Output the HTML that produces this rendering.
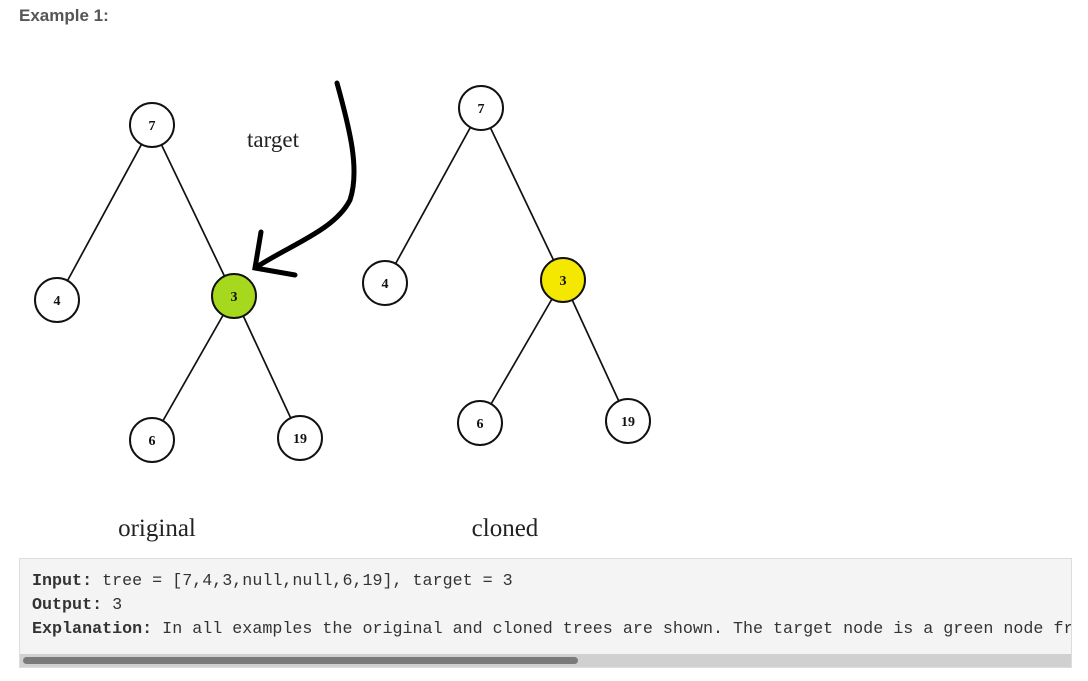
<!DOCTYPE html>
<html><head><meta charset="utf-8"><style>
body{margin:0;background:#fff;width:1088px;height:681px;overflow:hidden;font-family:"Liberation Sans",sans-serif;position:relative}
.h{position:absolute;left:19px;top:6px;font-size:17px;font-weight:bold;color:#555}
.box{position:absolute;left:19px;top:558px;width:1053px;height:110px;background:#f4f4f4;border:1px solid #ddd;box-sizing:border-box;overflow:hidden}
.code{position:absolute;left:12px;top:11px;font-family:"Liberation Mono",monospace;font-size:16.7px;line-height:24px;color:#333;white-space:pre}
.sb{position:absolute;left:0;right:0;bottom:0;height:13px;background:#d0d0d0}
.th{position:absolute;left:3px;top:3px;width:555px;height:7px;border-radius:4px;background:#7a7a7a}
</style></head><body>
<div class="h">Example 1:</div>
<svg width="1088" height="560" style="position:absolute;left:0;top:0" font-family="Liberation Serif,serif">
<g stroke="#111" stroke-width="1.7">
<line x1="152" y1="125" x2="57" y2="300"/><line x1="152" y1="125" x2="234" y2="296"/>
<line x1="234" y1="296" x2="152" y2="440"/><line x1="234" y1="296" x2="300" y2="438"/>
<line x1="481" y1="108" x2="385" y2="283"/><line x1="481" y1="108" x2="563" y2="280"/>
<line x1="563" y1="280" x2="480" y2="423"/><line x1="563" y1="280" x2="628" y2="421"/>
</g>
<g stroke="#111" stroke-width="2" font-size="14" font-weight="bold" text-anchor="middle">
<circle cx="152" cy="125" r="22" fill="#fff"/><circle cx="57" cy="300" r="22" fill="#fff"/>
<circle cx="234" cy="296" r="22" fill="#a6d81e"/><circle cx="152" cy="440" r="22" fill="#fff"/>
<circle cx="300" cy="438" r="22" fill="#fff"/>
<circle cx="481" cy="108" r="22" fill="#fff"/><circle cx="385" cy="283" r="22" fill="#fff"/>
<circle cx="563" cy="280" r="22" fill="#f5e800"/><circle cx="480" cy="423" r="22" fill="#fff"/>
<circle cx="628" cy="421" r="22" fill="#fff"/>
</g>
<g font-size="14" font-weight="bold" text-anchor="middle" fill="#111">
<text x="152" y="130">7</text><text x="57" y="305">4</text><text x="234" y="301">3</text>
<text x="152" y="445">6</text><text x="300" y="443">19</text>
<text x="481" y="113">7</text><text x="385" y="288">4</text><text x="563" y="285">3</text>
<text x="480" y="428">6</text><text x="628" y="426">19</text>
</g>
<path d="M337 83 C350 130 360 170 350 200 C335 230 290 245 255 268" fill="none" stroke="#000" stroke-width="5" stroke-linecap="round"/>
<path d="M261 232 L255 268 L295 275" fill="none" stroke="#000" stroke-width="5" stroke-linecap="round"/>
<text x="273" y="147" font-size="23" text-anchor="middle" fill="#222">target</text>
<text x="157" y="536" font-size="25" text-anchor="middle" fill="#222">original</text>
<text x="505" y="536" font-size="25" text-anchor="middle" fill="#222">cloned</text>
</svg>
<div class="box"><div class="code"><b>Input:</b> tree = [7,4,3,null,null,6,19], target = 3
<b>Output:</b> 3
<b>Explanation:</b> In all examples the original and cloned trees are shown. The target node is a green node from the original tree.</div>
<div class="sb"><div class="th"></div></div></div>
</body></html>
